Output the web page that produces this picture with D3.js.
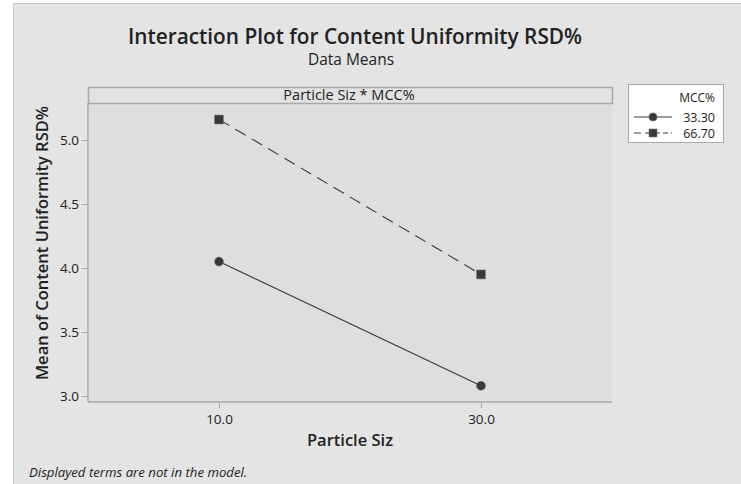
<!DOCTYPE html>
<html>
<head>
<meta charset="utf-8">
<script src="https://cdn.jsdelivr.net/npm/d3@7"></script>
<style>
  html, body { margin: 0; padding: 0; background: #ffffff; }
  svg { display: block; }
  text { font-family: "Open Sans", "Noto Sans", sans-serif; fill: #222; }
</style>
</head>
<body>
<svg id="chart" width="741" height="484"></svg>
<script>
// Factor levels and cell means
const particleSizes = [10, 30];
const mccLevels = ["33.30", "66.70"];
const meanLow = [4.05, 3.08];   // MCC% = 33.30
const meanHigh = [5.16, 3.95];  // MCC% = 66.70
const yTicks = [3.0, 3.5, 4.0, 4.5, 5.0];
const xTicks = [10, 30];

const series = [
  { level: mccLevels[0], values: meanLow, symbol: d3.symbolCircle, dash: null, legendDash: null },
  { level: mccLevels[1], values: meanHigh, symbol: d3.symbolSquare, dash: "12,7", legendDash: "7,4,15,3,5,3,2,20" }
];

const svg = d3.select("#chart");
const W = 741, H = 484;

// outer figure frame
svg.append("rect").attr("x", 13).attr("y", 3).attr("width", W - 13).attr("height", H - 3)
  .attr("fill", "#e4e4e4");
svg.append("line").attr("x1", 13.5).attr("x2", 13.5).attr("y1", 3).attr("y2", H)
  .attr("stroke", "#c8c8c8");
svg.append("line").attr("x1", 13).attr("x2", W).attr("y1", 3.5).attr("y2", 3.5)
  .attr("stroke", "#c8c8c8");

const panel = { left: 88, right: 612, top: 87, header: 103, bottom: 402 };

const x = d3.scaleLinear().domain([0, 40]).range([panel.left, panel.right]);
const y = d3.scaleLinear().domain([3.0, 5.0]).range([396, 140]);

// titles
svg.append("text").attr("x", 355).attr("y", 44).attr("text-anchor", "middle")
  .attr("font-size", 20.8).attr("font-weight", 600)
  .text("Interaction Plot for Content Uniformity RSD%");
svg.append("text").attr("x", 351).attr("y", 65).attr("text-anchor", "middle")
  .attr("font-size", 15.5)
  .text("Data Means");

// panel background
svg.append("rect").attr("x", panel.left).attr("y", panel.header)
  .attr("width", panel.right - panel.left).attr("height", panel.bottom - panel.header)
  .attr("fill", "#dedede");
// header strip
svg.append("rect").attr("x", panel.left + 0.5).attr("y", panel.top + 0.5)
  .attr("width", panel.right - panel.left).attr("height", panel.header - panel.top)
  .attr("fill", "#e2e2e2").attr("stroke", "#a8a8a8").attr("stroke-width", 1.5);
svg.append("text").attr("x", 349).attr("y", 99.5)
  .attr("text-anchor", "middle").attr("font-size", 14.5)
  .text("Particle Siz * MCC%");

// axes
const yAxis = d3.axisLeft(y).tickValues(yTicks).tickFormat(d3.format(".1f"))
  .tickSize(6).tickPadding(3);
const gy = svg.append("g").attr("transform", `translate(${panel.left},0)`).call(yAxis);
gy.select(".domain").remove();
gy.append("line").attr("x1", 0).attr("x2", 0).attr("y1", panel.header).attr("y2", panel.bottom)
  .attr("stroke", "#a8a8a8").attr("stroke-width", 1.5);

const xAxis = d3.axisBottom(x).tickValues(xTicks).tickFormat(d3.format(".1f"))
  .tickSize(6).tickPadding(6);
const gx = svg.append("g").attr("transform", `translate(0,${panel.bottom})`).call(xAxis);
gx.select(".domain").remove();
gx.append("line").attr("x1", panel.left).attr("x2", panel.right).attr("y1", 0).attr("y2", 0)
  .attr("stroke", "#a8a8a8").attr("stroke-width", 1.5);

svg.selectAll(".tick line").attr("stroke", "#a8a8a8");
svg.selectAll(".tick text").attr("font-size", 13.5).attr("fill", "#222")
  .attr("font-family", "\"Open Sans\", \"Noto Sans\", sans-serif");

// axis titles
svg.append("text").attr("x", 350).attr("y", 446).attr("text-anchor", "middle")
  .attr("font-size", 16.5).attr("font-weight", 600).text("Particle Siz");
svg.append("text").attr("transform", "translate(48,243) rotate(-90)")
  .attr("text-anchor", "middle").attr("font-size", 16.5).attr("font-weight", 600)
  .text("Mean of Content Uniformity RSD%");

// interaction lines and markers
const line = d3.line().x((d, i) => x(particleSizes[i])).y(d => y(d));
const sizeOf = s => s.symbol === d3.symbolCircle ? 64 : 80;

series.forEach(s => {
  svg.append("path").datum(s.values).attr("d", line)
    .attr("fill", "none").attr("stroke", "#3a3a3a").attr("stroke-width", 1.1)
    .attr("stroke-dasharray", s.dash);
  svg.selectAll(null).data(s.values).join("path")
    .attr("transform", (d, i) => `translate(${x(particleSizes[i])},${y(d)})`)
    .attr("d", d3.symbol(s.symbol, sizeOf(s)))
    .attr("fill", "#393939").attr("stroke", "#7a7a7a").attr("stroke-width", 0.6);
});

// legend
const lg = svg.append("g");
lg.append("rect").attr("x", 628.5).attr("y", 84.5).attr("width", 95).attr("height", 58)
  .attr("fill", "#ffffff").attr("stroke", "#a8a8a8");
lg.append("text").attr("x", 715).attr("y", 102).attr("text-anchor", "end")
  .attr("font-size", 12).text("MCC%");
series.forEach((s, i) => {
  const yy = 117 + i * 16;
  lg.append("line").attr("x1", 634).attr("x2", 672).attr("y1", yy).attr("y2", yy)
    .attr("stroke", "#3a3a3a").attr("stroke-width", 1.1).attr("stroke-dasharray", s.legendDash);
  lg.append("path").attr("transform", `translate(653,${yy})`)
    .attr("d", d3.symbol(s.symbol, sizeOf(s) * 0.8))
    .attr("fill", "#393939").attr("stroke", "#7a7a7a").attr("stroke-width", 0.6);
  lg.append("text").attr("x", 715).attr("y", yy + 4.5).attr("text-anchor", "end")
    .attr("font-size", 12.5).text(s.level);
});

// footnote
svg.append("text").attr("x", 29).attr("y", 477).attr("font-size", 13.2)
  .attr("font-style", "italic").text("Displayed terms are not in the model.");
</script>
</body>
</html>
